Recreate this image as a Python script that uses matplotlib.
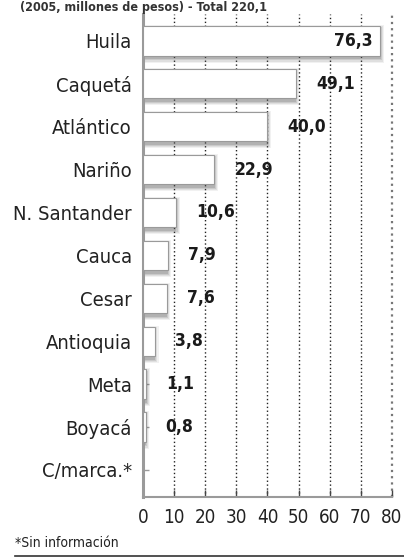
import matplotlib
matplotlib.use('Agg')
import matplotlib.pyplot as plt
from matplotlib.lines import Line2D

plt.rcParams['font.family'] = ['DejaVu Sans']
plt.rcParams['font.stretch'] = 'condensed'

# data
departamentos = ['Huila', 'Caquetá', 'Atlántico', 'Nariño', 'N. Santander', 'Cauca',
                 'Cesar', 'Antioquia', 'Meta', 'Boyacá', 'C/marca.*']
valores = [76.3, 49.1, 40.0, 22.9, 10.6, 7.9, 7.6, 3.8, 1.1, 0.8, 0.0]
etiquetas = ['76,3', '49,1', '40,0', '22,9', '10,6', '7,9', '7,6', '3,8', '1,1', '0,8', '']
xticks = [0, 10, 20, 30, 40, 50, 60, 70, 80]

fig = plt.figure(figsize=(4.04, 5.57), dpi=100)
ax = fig.add_axes([0.354, 0.108, 0.616, 0.867])

ypos = list(range(len(departamentos)))

# fake blurred shadow behind each bar
for k, a in enumerate([0.08, 0.11, 0.15, 0.2]):
    grow = 1.2 - k * 0.35
    for y, v in zip(ypos, valores):
        if v <= 0:
            continue
        ax.barh(y + 0.07, v + grow, left=0, height=0.70 + 0.14 * grow,
                color='#555555', alpha=a, linewidth=0, zorder=2)

ax.barh(ypos, valores, height=0.68, color='white', edgecolor='#9a9a9a',
        linewidth=0.8, zorder=3)

# dotted gridlines
for xv in xticks[1:]:
    ax.axvline(xv, color='#222222' if xv < 80 else '#777777', linestyle=(0, (1, 1.8)),
               linewidth=1.0 if xv < 80 else 1.6, zorder=1, clip_on=False)

# value labels
for y, v, t in zip(ypos, valores, etiquetas):
    if not t:
        continue
    if v > 70:
        ax.text(v - 2.5, y, t, ha='right', va='center', fontsize=12.5,
                fontweight='bold', color='#1a1a1a', zorder=5)
    else:
        ax.text(v + 6.5, y, t, ha='left', va='center', fontsize=12.5,
                fontweight='bold', color='#1a1a1a', zorder=5)

ax.set_xlim(0, 80)
ax.set_ylim(10.63, -0.63)
ax.set_xticks(xticks)
ax.set_xticklabels([str(x) for x in xticks], fontsize=13.5, color='#222222')
ax.set_yticks(ypos)
ax.set_yticklabels(departamentos, fontsize=14.5, color='#222222')

ax.tick_params(axis='x', direction='in', length=5, width=1, color='#444444', pad=8)
ax.tick_params(axis='y', direction='in', length=4, width=1, color='#999999', pad=8)

for s in ['top', 'right']:
    ax.spines[s].set_visible(False)
ax.spines['left'].set_color('#9a9a9a')
ax.spines['left'].set_linewidth(2.2)
ax.spines['bottom'].set_color('#9a9a9a')
ax.spines['bottom'].set_linewidth(1.5)
ax.set_facecolor('white')

# title at the very top of the image
fig.text(0.05, 0.999, '(2005, millones de pesos) - Total 220,1', fontsize=9,
         fontweight='bold', color='#333333', ha='left', va='top')

fig.text(0.037, 0.025, '*Sin información', fontsize=10, color='#222222',
         ha='left', va='center')
fig.add_artist(Line2D([0.037, 1.0], [0.002, 0.002], transform=fig.transFigure,
                      color='#333333', linewidth=1.2))

fig.savefig('out.png', dpi=100, facecolor='white')
